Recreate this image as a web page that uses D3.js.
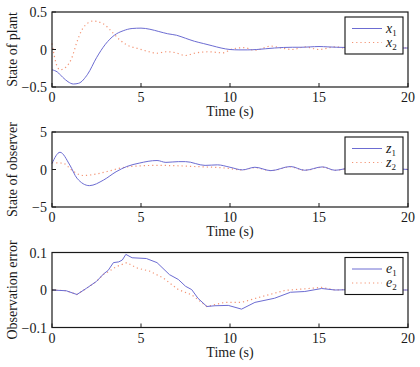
<!DOCTYPE html>
<html><head><meta charset="utf-8">
<script src="https://cdn.jsdelivr.net/npm/d3@7"></script>
<style>body{margin:0;background:#fff}svg{display:block}</style>
</head><body><svg id="c" width="420" height="367" font-family="'Liberation Serif', 'DejaVu Serif', serif"></svg>
<script>
// ---- data ----
const xTicks = [0, 5, 10, 15, 20];

const x1T = [0,0.3,0.6,0.9,1.2,1.5,2.0,2.5,3.0,3.5,4.0,4.5,5.0,5.5,6.0,6.5,7.0,7.5,8.0,8.5,9.0,9.5,10,10.5,11,11.5,12,12.5,13,13.5,14,14.5,15,15.5,16,17,18,19,20];
const x1V = [-0.27,-0.30,-0.37,-0.43,-0.46,-0.45,-0.33,-0.11,0.07,0.19,0.25,0.28,0.285,0.27,0.24,0.21,0.19,0.15,0.11,0.08,0.05,0.02,0.0,-0.005,-0.005,0.0,0.01,0.02,0.027,0.03,0.03,0.035,0.04,0.035,0.03,0.025,0.02,0.02,0.02];
const x2T = [0,0.25,0.45,0.8,1.1,1.4,1.7,2.0,2.3,2.9,3.35,3.8,4.3,4.8,5.3,5.9,6.4,6.9,7.5,8.0,8.8,9.6,10.1,10.8,11.4,12.3,12.9,13.5,14.2,15.0,15.9,16.8,17.6,18.5,19.3,20];
const x2V = [0.08,-0.2,-0.27,-0.23,-0.12,0.1,0.27,0.35,0.38,0.34,0.24,0.13,0.05,0.015,-0.02,-0.05,-0.03,-0.04,-0.08,-0.05,-0.03,-0.045,0.005,0.025,-0.01,0.045,0.02,0.0,0.035,0.0,0.035,0.01,0.03,0.01,0.025,0.02];

const z1T = [0,0.45,1.0,1.4,2.1,2.9,3.6,4.2,4.9,5.9,6.4,7.1,7.5,8.6,9.3,10.0,10.7,11.4,12.3,13.4,14.2,15.2,15.9,16.8,17.8,18.8,20];
const z1V = [0.8,2.3,0.6,-1.15,-2.15,-1.4,-0.3,0.4,0.85,1.2,0.95,1.05,1.05,0.55,0.62,0.3,-0.05,0.3,-0.15,0.4,-0.1,0.35,-0.1,0.2,-0.1,0.15,0.0];
const z2T = [0,0.6,1.2,1.75,2.5,3.1,4.0,4.9,5.9,7.0,8.0,9.7,10.7,11.4,12.3,13.4,14.2,15.2,15.9,16.8,17.8,18.8,20];
const z2V = [0.9,0.85,-0.25,-0.8,-0.6,-0.27,0.27,0.48,0.55,0.5,0.4,0.2,-0.05,0.25,-0.15,0.35,-0.1,0.3,-0.1,0.15,-0.1,0.1,0.0];

const e1T = [0,0.8,1.4,1.95,2.5,2.9,3.15,3.45,3.75,3.95,4.15,4.5,5.3,5.9,6.6,7.1,7.5,7.85,8.2,8.7,9.15,9.9,10.65,11.4,12.5,13.4,14.2,15.15,15.9,17,18,19,20];
const e1V = [0,-0.002,-0.012,0.005,0.023,0.043,0.052,0.073,0.075,0.08,0.095,0.086,0.084,0.073,0.041,0.028,0.01,0.001,-0.022,-0.044,-0.042,-0.041,-0.051,-0.033,-0.022,-0.006,-0.004,0.004,0.0,0.001,0.0,0.0,0.0];
const e2T = [0,0.8,1.4,1.95,2.5,2.9,3.15,3.6,4.2,4.75,5.5,6.25,7.1,7.85,8.7,9.7,10.65,11.6,13.1,14.4,15.15,15.9,17,18,19,20];
const e2V = [0,-0.002,-0.012,0.005,0.023,0.042,0.048,0.062,0.073,0.059,0.05,0.032,0.001,-0.013,-0.044,-0.033,-0.033,-0.02,-0.001,0.004,0.007,0.0,0.002,0.0,0.0,0.0];

const panels = [
  {ylabel:"State of plant", yTicks:[-0.5,0,0.5], yLabels:["\u22120.5","0","0.5"], sym:"x",
   s1:[x1T,x1V], s2:[x2T,x2V], curve:d3.curveMonotoneX},
  {ylabel:"State of observer", yTicks:[-5,0,5], yLabels:["\u22125","0","5"], sym:"z",
   s1:[z1T,z1V], s2:[z2T,z2V], curve:d3.curveMonotoneX},
  {ylabel:"Observation error", yTicks:[-0.1,0,0.1], yLabels:["\u22120.1","0","0.1"], sym:"e",
   s1:[e1T,e1V], s2:[e2T,e2V], curve:d3.curveLinear}
];

// ---- layout ----
const svg = d3.select("#c");
const L = 52, R = 408, H = 75;
const tops = [12, 132, 252.5];
const blue = "#6c6cd2", orange = "#f39474";
const dash = "1.2,3";
const ink = "#1a1a1a";
const x = d3.scaleLinear().domain([0,20]).range([L,R]);

panels.forEach((p,i) => {
  const top = tops[i], bot = top + H;
  const y = d3.scaleLinear().domain([p.yTicks[0], p.yTicks[2]]).range([bot, top]);
  const g = svg.append("g");
  const mk = s => s[0].map((t,k)=>[t,s[1][k]]);
  const line = d3.line().x(d=>x(d[0])).y(d=>y(d[1])).curve(p.curve);
  g.append("path").attr("d", line(mk(p.s2))).attr("fill","none").attr("stroke",orange)
    .attr("stroke-width",1.2).attr("stroke-dasharray",dash);
  g.append("path").attr("d", line(mk(p.s1))).attr("fill","none").attr("stroke",blue).attr("stroke-width",1);

  // frame
  g.append("rect").attr("x",L).attr("y",top).attr("width",R-L).attr("height",H)
    .attr("fill","none").attr("stroke",ink).attr("stroke-width",1.2);
  // ticks (inside)
  xTicks.forEach(t => {
    g.append("line").attr("x1",x(t)).attr("x2",x(t)).attr("y1",bot).attr("y2",bot-4).attr("stroke",ink);
    g.append("text").attr("x",x(t)).attr("y",bot+15).attr("text-anchor","middle").attr("font-size",14).attr("fill",ink).text(t);
  });
  p.yTicks.forEach((v,k) => {
    g.append("line").attr("x1",L).attr("x2",L+4).attr("y1",y(v)).attr("y2",y(v)).attr("stroke",ink);
    g.append("text").attr("x",L-5).attr("y",y(v)+5).attr("text-anchor","end").attr("font-size",14).attr("fill",ink).text(p.yLabels[k]);
  });
  g.append("text").attr("x",(L+R)/2).attr("y",bot+29).attr("text-anchor","middle").attr("font-size",14).attr("fill",ink).text("Time (s)");
  g.append("text").attr("transform",`translate(17,${(top+bot)/2}) rotate(-90)`).attr("text-anchor","middle")
    .attr("font-size",14).attr("fill",ink).text(p.ylabel);

  // legend
  const lx = 345, ly = top + 5, lw = 58, lh = 37;
  g.append("rect").attr("x",lx).attr("y",ly).attr("width",lw).attr("height",lh).attr("fill","#fff").attr("stroke","#111").attr("stroke-width",1.1);
  [[blue,null],[orange,dash]].forEach((c,k) => {
    const yy = ly + 11.5 + k*14;
    const ln = g.append("line").attr("x1",lx+7).attr("x2",lx+37).attr("y1",yy).attr("y2",yy).attr("stroke",c[0]).attr("stroke-width",k?1.2:1);
    if (c[1]) ln.attr("stroke-dasharray",c[1]);
    const tx = g.append("text").attr("x",lx+41).attr("y",yy+4).attr("font-size",14).attr("fill",ink);
    tx.append("tspan").attr("font-style","italic").text(p.sym);
    tx.append("tspan").attr("font-size",9).attr("dy",3).text(k+1);
  });
});
</script></body></html>
